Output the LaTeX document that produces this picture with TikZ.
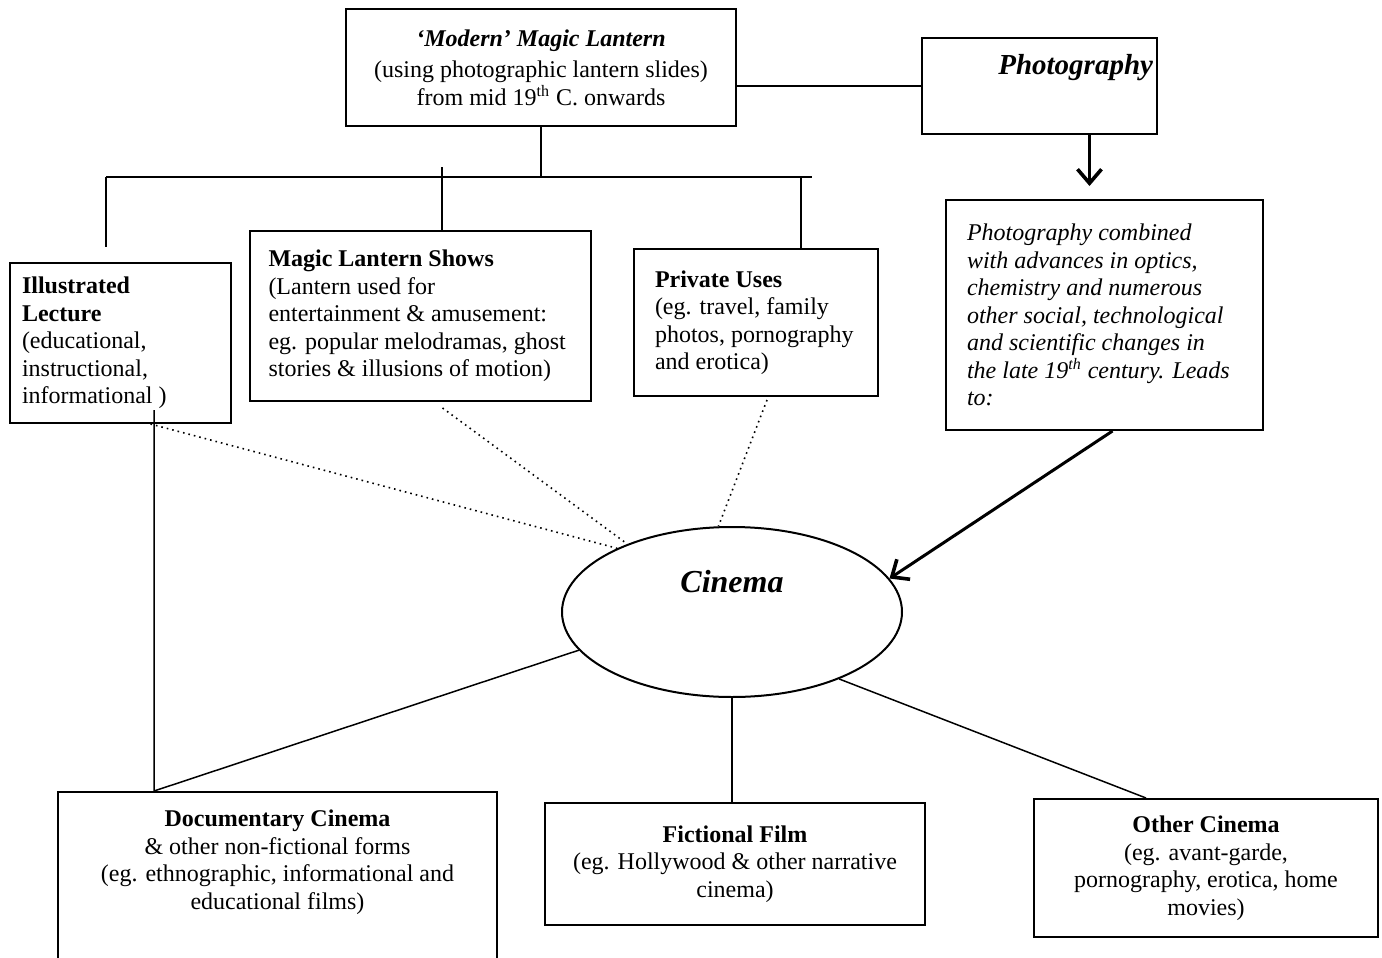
\documentclass[tikz,border=0pt]{standalone}
\usepackage{fontspec}
\setmainfont{Liberation Serif}
\usetikzlibrary{arrows.meta,shapes.geometric}

\begin{document}
\begin{tikzpicture}[
  x=0.5pt, y=-0.5pt,
  font=\fontsize{12}{13.75}\selectfont,
  panel/.style={rectangle, draw=black, line width=1pt, inner xsep=5.5pt, inner ysep=3pt},
  leftpanel/.style={panel, align=flush left},
  midpanel/.style={panel, align=center},
  link/.style={line width=0.75pt},
  boldlink/.style={line width=1.4pt},
  dotlink/.style={line width=0.8pt, dotted},
  arrow/.style={line width=1.5pt, -{Straight Barb[length=7pt,width=12pt,line width=1.8pt]}}
]
\useasboundingbox (0,0) rectangle (1382,958);

% sources
\node[midpanel, minimum width=195pt, minimum height=58.5pt] (modern) at (541,67.5)
  {\textbf{\textit{`Modern' Magic Lantern}}\\[2pt] (using photographic lantern slides)\\ from mid 19\textsuperscript{th} C. onwards};
\node[panel, inner xsep=2pt, inner ysep=0pt, text width=113.5pt, align=right, text height=18pt, text depth=30pt,
  font=\fontsize{14.5}{16}\selectfont\bfseries\itshape] (photo) at (1039.5,86) {Photography};

% uses of the lantern
\node[leftpanel, inner xsep=6pt, text width=98.5pt, minimum height=80pt] (illus) at (120.5,343)
  {\textbf{Illustrated}\\ \textbf{Lecture}\\ (educational,\\ instructional,\\ informational )};
\node[leftpanel, inner xsep=9.25pt, text width=152pt, minimum height=85pt] (shows) at (420.5,316)
  {\textbf{Magic Lantern Shows}\\ (Lantern used for\\ entertainment \& amusement:\\ eg. popular melodramas, ghost\\ stories \& illusions of motion)};
\node[leftpanel, inner xsep=10.5pt, text width=101pt, minimum height=73.5pt] (private) at (756,322.5)
  {\textbf{Private Uses}\\ (eg. travel, family\\ photos, pornography\\ and erotica)};
\node[leftpanel, inner xsep=10.5pt, text width=137.5pt, minimum height=115pt, font=\fontsize{12}{13.75}\selectfont\itshape] (leads) at (1104.5,315)
  {Photography combined\\ with advances in optics,\\ chemistry and numerous\\ other social, technological\\ and scientific changes in\\ the late 19\textsuperscript{th} century. Leads\\ to:};

% cinema
\node[ellipse, draw=black, line width=1pt, minimum width=170pt, minimum height=85pt, inner sep=0pt,
  text height=10pt, text depth=30pt, font=\fontsize{16}{18}\selectfont\bfseries\itshape] (cinema) at (732,612) {Cinema};

% forms of cinema
\node[midpanel, anchor=north, inner ysep=9pt, minimum width=219.5pt] (docu) at (277.5,791)
  {\textbf{Documentary Cinema}\\ \& other non-fictional forms\\ (eg. ethnographic, informational and\\ educational films)\\[12pt] \mbox{}};
\node[midpanel, minimum width=190pt, minimum height=61pt] (fiction) at (735,864)
  {\textbf{Fictional Film}\\ (eg. Hollywood \& other narrative\\ cinema)};
\node[midpanel, minimum width=172pt, minimum height=69pt] (other) at (1206,868)
  {\textbf{Other Cinema}\\ (eg. avant-garde,\\ pornography, erotica, home\\ movies)};

% connectors
\coordinate (busL) at (106,177);
\coordinate (busR) at (812,177);
\coordinate (showsTop) at (442,167);
\coordinate (privTop) at (801,177);
\coordinate (lectureDrop) at (154,410);

\draw[link] (photo.west) -- (photo.west -| modern.east);
\draw[link] (modern.south) -- (modern.south |- busL);
\draw[link] (busL) -- (busR);
\draw[link, shorten >=7.5pt] (busL) -- (busL |- illus.north);
\draw[boldlink] (showsTop) -- (showsTop |- shows.north);
\draw[link] (privTop) -- (privTop |- private.north);
\draw[arrow] ([xshift=25pt]photo.south) -- ++(0,51);

\draw[dotlink] ([xshift=15pt]illus.south) -- (cinema.151);
\draw[dotlink] ([xshift=11pt,yshift=-3pt]shows.south) -- (cinema.147.5);
\draw[dotlink] ([xshift=5.5pt,yshift=-1.5pt]private.south) -- (cinema.99);
\draw[arrow] ([xshift=4pt]leads.south) -- (cinema.12);

\draw[link] (lectureDrop) -- (lectureDrop |- docu.north) -- (cinema.194);
\draw[boldlink] (cinema.south) -- (cinema.south |- fiction.north);
\draw[link] (cinema.328) -- ([xshift=-30pt]other.north);
\end{tikzpicture}
\end{document}
